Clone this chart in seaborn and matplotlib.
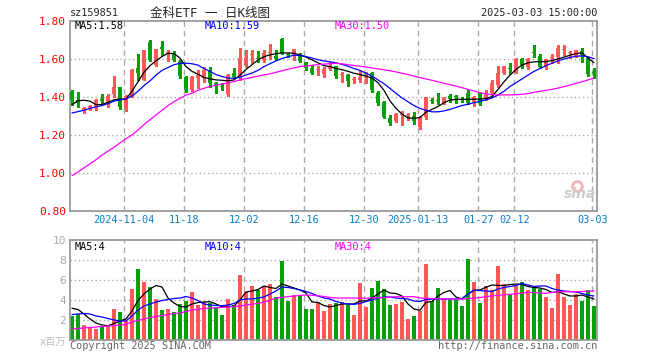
import numpy as np
import matplotlib
matplotlib.use("Agg")
import matplotlib.pyplot as plt
import seaborn as sns

# daily K-line data, 2024-10-22 .. 2025-03-03 (88 trading days)
opens = [1.428, 1.384, 1.325, 1.340, 1.345, 1.389, 1.367, 1.416, 1.451, 1.337,
         1.402, 1.551, 1.490, 1.691, 1.568, 1.665, 1.626, 1.630, 1.590, 1.505,
         1.437, 1.500, 1.498, 1.542, 1.475, 1.456, 1.414, 1.524, 1.498, 1.568,
         1.621, 1.606, 1.595, 1.631, 1.616, 1.703, 1.623, 1.621, 1.626, 1.582,
         1.554, 1.540, 1.519, 1.545, 1.563, 1.517, 1.516, 1.489, 1.490, 1.500,
         1.528, 1.423, 1.375, 1.288, 1.274, 1.305, 1.300, 1.300, 1.244, 1.293,
         1.382, 1.384, 1.370, 1.407, 1.402, 1.390, 1.419, 1.375, 1.419, 1.393,
         1.419, 1.463, 1.528, 1.553, 1.528, 1.598, 1.560, 1.635, 1.616, 1.560,
         1.603, 1.609, 1.647, 1.630, 1.616, 1.644, 1.604, 1.530]
highs = [1.437, 1.424, 1.345, 1.358, 1.388, 1.414, 1.414, 1.510, 1.455, 1.410,
         1.545, 1.625, 1.650, 1.700, 1.655, 1.696, 1.645, 1.640, 1.595, 1.510,
         1.510, 1.542, 1.560, 1.560, 1.480, 1.472, 1.520, 1.551, 1.660, 1.647,
         1.647, 1.642, 1.647, 1.679, 1.647, 1.709, 1.633, 1.655, 1.630, 1.585,
         1.568, 1.563, 1.560, 1.586, 1.565, 1.533, 1.520, 1.507, 1.540, 1.530,
         1.530, 1.432, 1.380, 1.305, 1.317, 1.328, 1.314, 1.320, 1.300, 1.400,
         1.393, 1.423, 1.402, 1.416, 1.410, 1.402, 1.437, 1.405, 1.428, 1.437,
         1.490, 1.563, 1.565, 1.577, 1.603, 1.603, 1.603, 1.674, 1.626, 1.600,
         1.626, 1.674, 1.674, 1.644, 1.650, 1.656, 1.610, 1.551]
lows = [1.358, 1.349, 1.318, 1.332, 1.332, 1.367, 1.350, 1.400, 1.335, 1.326,
        1.400, 1.490, 1.490, 1.590, 1.565, 1.621, 1.590, 1.590, 1.500, 1.428,
        1.430, 1.446, 1.480, 1.455, 1.419, 1.437, 1.405, 1.498, 1.490, 1.560,
        1.577, 1.586, 1.586, 1.598, 1.595, 1.626, 1.609, 1.595, 1.582, 1.542,
        1.521, 1.514, 1.507, 1.540, 1.501, 1.481, 1.458, 1.472, 1.480, 1.475,
        1.428, 1.358, 1.288, 1.253, 1.270, 1.253, 1.280, 1.260, 1.230, 1.282,
        1.366, 1.363, 1.363, 1.375, 1.370, 1.375, 1.363, 1.355, 1.358, 1.384,
        1.402, 1.454, 1.520, 1.520, 1.524, 1.551, 1.550, 1.612, 1.551, 1.546,
        1.577, 1.577, 1.621, 1.604, 1.612, 1.586, 1.510, 1.498]
closes = [1.384, 1.367, 1.340, 1.352, 1.384, 1.380, 1.405, 1.451, 1.349, 1.405,
          1.542, 1.528, 1.647, 1.595, 1.651, 1.655, 1.638, 1.595, 1.510, 1.437,
          1.504, 1.516, 1.542, 1.472, 1.463, 1.452, 1.516, 1.507, 1.604, 1.612,
          1.626, 1.602, 1.633, 1.635, 1.600, 1.633, 1.619, 1.651, 1.589, 1.554,
          1.528, 1.542, 1.547, 1.565, 1.510, 1.519, 1.486, 1.491, 1.507, 1.505,
          1.437, 1.370, 1.296, 1.265, 1.310, 1.308, 1.305, 1.275, 1.293, 1.398,
          1.378, 1.380, 1.393, 1.390, 1.398, 1.387, 1.370, 1.402, 1.370, 1.419,
          1.475, 1.525, 1.563, 1.549, 1.598, 1.568, 1.598, 1.631, 1.560, 1.598,
          1.607, 1.656, 1.650, 1.633, 1.647, 1.621, 1.519, 1.527]
price_ma5 = [1.360, 1.380, 1.383, 1.378, 1.360, 1.360, 1.372, 1.385, 1.389, 1.389,
             1.430, 1.480, 1.530, 1.565, 1.590, 1.613, 1.630, 1.628, 1.605, 1.560,
             1.535, 1.520, 1.503, 1.496, 1.490, 1.488, 1.485, 1.490, 1.515, 1.545,
             1.570, 1.595, 1.612, 1.622, 1.628, 1.632, 1.632, 1.630, 1.622, 1.610,
             1.595, 1.580, 1.565, 1.560, 1.550, 1.544, 1.535, 1.525, 1.518, 1.510,
             1.500, 1.475, 1.435, 1.380, 1.340, 1.310, 1.290, 1.288, 1.292, 1.320,
             1.335, 1.350, 1.370, 1.384, 1.387, 1.388, 1.388, 1.388, 1.389, 1.392,
             1.402, 1.440, 1.480, 1.515, 1.545, 1.568, 1.580, 1.585, 1.586, 1.586,
             1.592, 1.600, 1.610, 1.620, 1.628, 1.633, 1.605, 1.580]
price_ma10 = [1.316, 1.323, 1.330, 1.340, 1.348, 1.355, 1.365, 1.378, 1.385, 1.390,
              1.405, 1.430, 1.460, 1.485, 1.515, 1.540, 1.555, 1.570, 1.577, 1.578,
              1.575, 1.568, 1.550, 1.535, 1.518, 1.508, 1.500, 1.498, 1.504, 1.516,
              1.526, 1.540, 1.560, 1.575, 1.590, 1.603, 1.612, 1.620, 1.618, 1.613,
              1.605, 1.596, 1.590, 1.585, 1.580, 1.572, 1.562, 1.550, 1.540, 1.525,
              1.510, 1.490, 1.470, 1.445, 1.420, 1.395, 1.375, 1.355, 1.340, 1.330,
              1.322, 1.322, 1.327, 1.335, 1.345, 1.355, 1.362, 1.370, 1.377, 1.385,
              1.395, 1.410, 1.430, 1.455, 1.475, 1.495, 1.515, 1.535, 1.550, 1.565,
              1.578, 1.590, 1.600, 1.608, 1.614, 1.617, 1.612, 1.602]
price_ma30 = [0.986, 1.005, 1.027, 1.048, 1.070, 1.094, 1.115, 1.135, 1.158, 1.180,
              1.200, 1.226, 1.255, 1.280, 1.305, 1.330, 1.355, 1.375, 1.393, 1.410,
              1.420, 1.435, 1.446, 1.455, 1.462, 1.468, 1.475, 1.481, 1.490, 1.497,
              1.503, 1.510, 1.516, 1.522, 1.530, 1.538, 1.546, 1.553, 1.560, 1.563,
              1.567, 1.570, 1.573, 1.576, 1.577, 1.575, 1.570, 1.566, 1.562, 1.558,
              1.553, 1.548, 1.543, 1.538, 1.532, 1.525, 1.518, 1.510, 1.502, 1.495,
              1.488, 1.480, 1.472, 1.465, 1.457, 1.449, 1.440, 1.432, 1.422, 1.416,
              1.413, 1.411, 1.411, 1.411, 1.412, 1.414, 1.418, 1.425, 1.430, 1.435,
              1.440, 1.447, 1.455, 1.463, 1.472, 1.480, 1.490, 1.500]

# volume, millions
volumes = [2.43, 2.57, 1.50, 1.23, 1.10, 1.33, 1.40, 3.10, 2.80, 1.93,
           5.13, 7.13, 5.80, 5.30, 4.10, 3.00, 3.13, 2.80, 3.60, 3.93,
           4.80, 3.50, 3.80, 3.67, 3.30, 2.50, 4.10, 3.50, 6.50, 4.80,
           5.40, 5.00, 5.40, 5.60, 4.33, 7.93, 3.93, 4.50, 4.40, 3.10,
           3.10, 3.77, 2.90, 3.60, 3.67, 3.83, 3.50, 2.50, 5.70, 3.33,
           5.20, 5.90, 5.10, 3.50, 3.60, 3.80, 2.10, 2.40, 2.93, 7.60,
           3.90, 5.20, 4.10, 4.00, 4.00, 3.40, 8.10, 5.80, 3.70, 5.40,
           5.00, 7.40, 5.60, 4.60, 5.50, 5.77, 5.00, 5.30, 5.10, 4.30,
           3.20, 6.60, 4.30, 3.50, 4.60, 3.90, 5.00, 3.40]
vol_ma5 = [3.17, 3.05, 2.60, 2.10, 1.70, 1.50, 1.43, 1.65, 1.90, 2.10,
           2.90, 3.95, 4.60, 5.10, 5.45, 5.30, 4.20, 3.70, 3.35, 3.30,
           3.60, 3.75, 3.80, 3.83, 3.60, 3.33, 3.33, 3.40, 4.00, 4.80,
           4.90, 5.05, 5.40, 5.25, 5.15, 5.60, 5.40, 5.20, 5.00, 4.70,
           3.80, 3.75, 3.45, 3.30, 3.45, 3.60, 3.60, 3.60, 3.90, 3.90,
           4.20, 4.60, 5.00, 4.70, 4.65, 4.40, 3.60, 3.10, 2.97, 3.77,
           3.85, 4.40, 4.75, 4.96, 4.30, 4.10, 4.60, 4.95, 5.00, 5.28,
           5.50, 5.46, 5.45, 5.55, 5.60, 5.55, 5.35, 5.25, 5.20, 5.05,
           4.75, 4.85, 4.60, 4.40, 4.40, 4.50, 4.30, 4.10]
vol_ma10 = [2.55, 2.60, 2.65, 2.60, 2.40, 2.30, 2.15, 2.00, 1.90, 1.90,
            2.40, 3.00, 3.40, 3.60, 3.80, 3.95, 4.05, 4.15, 4.20, 4.35,
            4.20, 3.95, 3.60, 3.50, 3.45, 3.43, 3.50, 3.65, 4.00, 4.10,
            4.10, 4.20, 4.30, 4.60, 4.90, 5.30, 5.25, 5.15, 5.00, 4.85,
            4.65, 4.40, 4.20, 4.10, 3.85, 3.70, 3.60, 3.57, 3.65, 3.85,
            4.00, 4.20, 4.30, 4.30, 4.20, 4.15, 4.10, 3.90, 3.85, 4.05,
            4.10, 4.10, 4.10, 4.10, 4.10, 4.15, 4.60, 5.00, 4.95, 4.90,
            4.85, 5.10, 5.25, 5.35, 5.45, 5.65, 5.50, 5.35, 5.40, 5.40,
            5.15, 5.00, 4.90, 4.85, 4.80, 4.65, 4.50, 4.40]
vol_ma30 = [1.10, 1.15, 1.20, 1.25, 1.30, 1.35, 1.40, 1.45, 1.50, 1.57,
            1.80, 1.95, 2.10, 2.25, 2.35, 2.45, 2.55, 2.65, 2.70, 2.85,
            3.00, 3.07, 3.15, 3.20, 3.22, 3.26, 3.30, 3.35, 3.40, 3.50,
            3.58, 3.66, 3.80, 3.95, 4.20, 4.27, 4.33, 4.40, 4.45, 4.50,
            4.47, 4.42, 4.35, 4.25, 4.20, 4.20, 4.20, 4.20, 4.17, 4.18,
            4.20, 4.23, 4.25, 4.28, 4.33, 4.33, 4.33, 4.33, 4.20, 4.17,
            4.15, 4.12, 4.10, 4.10, 4.10, 4.10, 4.13, 4.20, 4.25, 4.33,
            4.42, 4.47, 4.52, 4.57, 4.62, 4.70, 4.77, 4.75, 4.70, 4.67,
            4.75, 4.82, 4.83, 4.83, 4.83, 4.85, 4.88, 4.90]

tick_pos = [9, 19, 29, 39, 49, 58, 68, 74, 87]
tick_labels = ["2024-11-04", "11-18", "12-02", "12-16", "12-30",
               "2025-01-13", "01-27", "02-12", "03-03"]

n = len(closes)
for arr in (opens, highs, lows, price_ma5, price_ma10, price_ma30,
            volumes, vol_ma5, vol_ma10, vol_ma30):
    assert len(arr) == n, len(arr)

RED = "#ff5656"
GREEN = "#08a008"
GRID = "#aaaaaa"
EDGE = "#9a9a9a"
BAR_W = 0.76

sns.set_style("white")
plt.rcParams["font.family"] = ["DejaVu Sans Mono", "Noto Sans CJK SC"]
plt.rcParams["font.size"] = 7.2

W, H = 660, 360
fig = plt.figure(figsize=(W / 100, H / 100), dpi=100)
ax = fig.add_axes([70 / W, 1 - 211 / H, 527 / W, 190 / H])
ax2 = fig.add_axes([70 / W, 1 - 340 / H, 527 / W, 100 / H])

x = np.arange(n)
o, h, l, c = map(np.array, (opens, highs, lows, closes))
up = c >= o
colors = np.where(up, RED, GREEN)

for a in (ax, ax2):
    a.set_xlim(-0.33, n - 0.5)
    for p in tick_pos:
        a.axvline(p - 0.3, color=GRID, lw=1, ls=(0, (4, 3)), zorder=0)
    for s in a.spines.values():
        s.set_color(EDGE)
        s.set_linewidth(1.3)
    a.tick_params(length=0)

# price panel
for g in (1.0, 1.2, 1.4, 1.6):
    ax.axhline(g, color=GRID, lw=1, ls=(0, (1, 2)), zorder=0)
ax.vlines(x, l, h, colors=colors, lw=1, zorder=2, antialiased=False)
body = np.maximum(np.abs(c - o), 0.005)
ax.bar(x, body, bottom=np.minimum(o, c), width=BAR_W, color=colors,
       linewidth=0, antialiased=False, zorder=3)
sns.lineplot(x=x, y=price_ma5, ax=ax, color="black", lw=0.9, zorder=4)
sns.lineplot(x=x, y=price_ma10, ax=ax, color="#0000ff", lw=0.9, zorder=4)
sns.lineplot(x=x, y=price_ma30, ax=ax, color="#ff00ff", lw=0.9, zorder=4)
ax.set_ylim(0.8, 1.8)
ax.set_yticks([0.8, 1.0, 1.2, 1.4, 1.6, 1.8])
ax.set_yticklabels(["%.2f" % v for v in [0.8, 1.0, 1.2, 1.4, 1.6, 1.8]],
                   color="red", fontsize=8)
ax.set_xticks([p - 0.3 for p in tick_pos])
ax.set_xticklabels(tick_labels, color="#0a7fcc", fontsize=7.4)
ax.tick_params(axis="y", pad=3)
ax.tick_params(axis="x", pad=3)
ax.set_ylabel("")

# sina watermark
ax.plot([0.962], [0.13], marker="o", ms=7, mfc="none", mec="#f2b4b4", mew=2,
        transform=ax.transAxes, zorder=1)
ax.text(0.998, 0.09, "sina", transform=ax.transAxes, ha="right", va="center",
        color="#cccccc", fontsize=10, fontweight="bold", style="italic",
        family="DejaVu Sans", zorder=1)

# volume panel
for g in (2, 4, 6, 8):
    ax2.axhline(g, color=GRID, lw=1, ls=(0, (1, 2)), zorder=0)
ax2.bar(x, volumes, width=BAR_W, color=colors, linewidth=0, antialiased=False,
        zorder=2)
sns.lineplot(x=x, y=vol_ma5, ax=ax2, color="black", lw=0.9, zorder=4)
sns.lineplot(x=x, y=vol_ma10, ax=ax2, color="#0000ff", lw=0.9, zorder=4)
sns.lineplot(x=x, y=vol_ma30, ax=ax2, color="#ff00ff", lw=0.9, zorder=4)
ax2.set_ylim(0, 10)
ax2.set_yticks([2, 4, 6, 8, 10])
ax2.set_yticklabels(["2", "4", "6", "8", "10"], color="#aaaaaa", fontsize=8)
ax2.set_xticks([])
ax2.tick_params(axis="y", pad=3)
ax2.set_ylabel("")

# header and legends
ty = 1 - 13 / H
fig.text(70 / W, ty, "sz159851", va="center", fontsize=7.4)
fig.text(210 / W, ty, "金科ETF 一 日K线图", ha="center", va="center", fontsize=9)
fig.text(597 / W, ty, "2025-03-03 15:00:00", ha="right", va="center", fontsize=7.4)

ly = 1 - 26 / H
fig.text(75 / W, ly, "MA5:1.58", color="black", va="center", fontsize=7.4)
fig.text(205 / W, ly, "MA10:1.59", color="#0000ff", va="center", fontsize=7.4)
fig.text(335 / W, ly, "MA30:1.50", color="#ff00ff", va="center", fontsize=7.4)

vy = 1 - 247 / H
fig.text(75 / W, vy, "MA5:4", color="black", va="center", fontsize=7.4)
fig.text(205 / W, vy, "MA10:4", color="#0000ff", va="center", fontsize=7.4)
fig.text(335 / W, vy, "MA30:4", color="#ff00ff", va="center", fontsize=7.4)

fy = 1 - 346 / H
fig.text(66 / W, 1 - 342 / H, "x百万", ha="right", va="center", color="#bbbbbb",
         fontsize=7.4)
fig.text(70 / W, fy, "Copyright 2025 SINA.COM", va="center", color="#666666",
         fontsize=7.4)
fig.text(597 / W, fy, "http://finance.sina.com.cn", ha="right", va="center",
         color="#666666", fontsize=7.4)

fig.savefig("out.png", dpi=100)
